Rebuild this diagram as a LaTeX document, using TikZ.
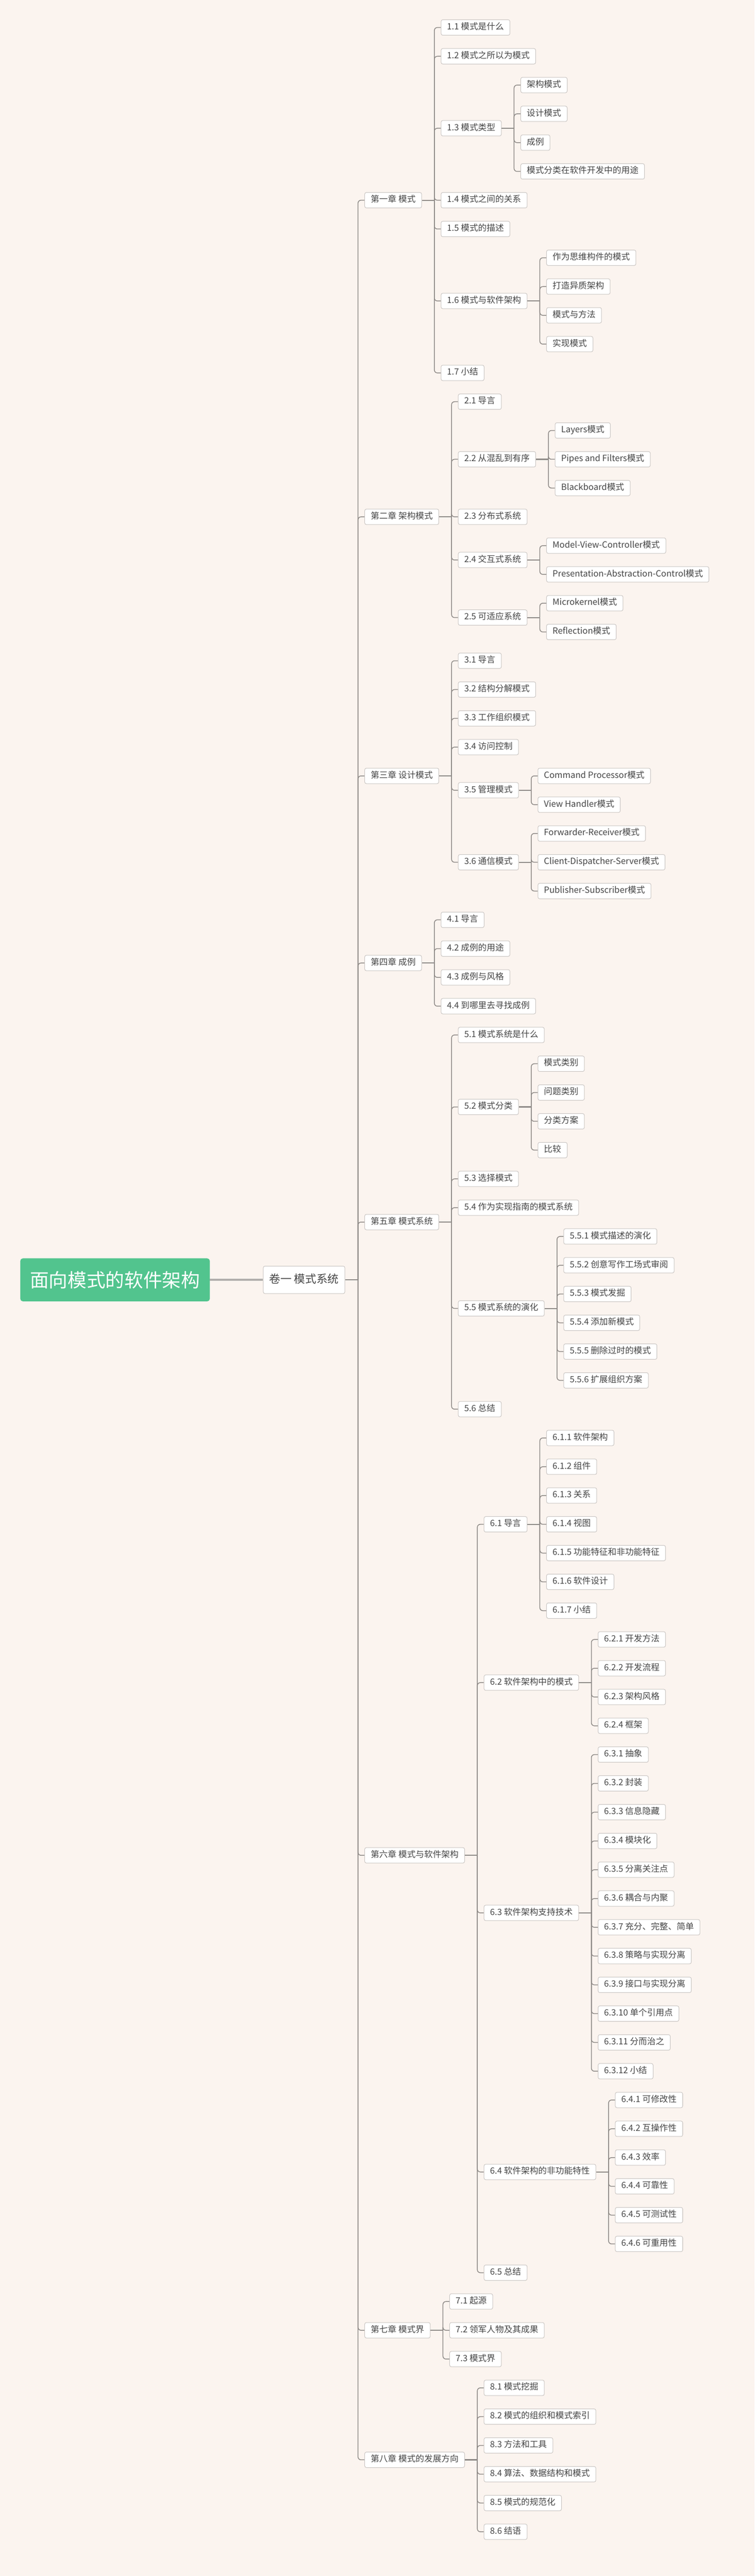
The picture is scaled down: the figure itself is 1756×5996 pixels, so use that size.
\documentclass[tikz,border=0pt]{standalone}
\usepackage{fontspec}
\setmainfont{Noto Sans CJK SC}
\definecolor{bg}{HTML}{FBF4EF}
\definecolor{ln}{HTML}{8E8A87}
\definecolor{bd}{HTML}{C8C4C1}
\definecolor{tx}{HTML}{454545}
\definecolor{gr}{HTML}{52C48E}
\tikzset{
  box/.style={draw=bd,fill=white,rounded corners=4pt,line width=1.2pt,inner xsep=14pt,inner ysep=0pt,
    text height=15pt,text depth=5pt,minimum height=36pt,text=tx,font=\fontsize{20pt}{24pt}\selectfont,anchor=west},
  stub/.style={draw=ln,line width=2.6pt},
  conn/.style={draw=ln,line width=1.8pt,rounded corners=7pt}
}
\newcommand\nd[4]{%
  \pgfmathsetmacro\yy{64+#3*67}%
  \node[box] (#1) at ([xshift=44pt]#2.east |- 0,\yy) {#4};
  \draw[conn] ([xshift=29pt]#2.east) |- (#1.west);}
\newcommand\stb[1]{\draw[stub] (#1.east) -- ++(29pt,0);}
\begin{document}
\begin{tikzpicture}[x=1pt,y=-1pt]
\fill[bg] (0,0) rectangle (1756,5996);
\useasboundingbox (0,0) rectangle (1756,5996);
\node[fill=gr,rounded corners=6pt,minimum width=441pt,minimum height=100pt,anchor=west,text=white,
  font=\fontsize{44pt}{50pt}\selectfont] (root) at (47,2979) {面向模式的软件架构};
\node[box,minimum height=64pt,font=\fontsize{26pt}{30pt}\selectfont,text height=20pt,text depth=6pt] (v1) at (612,2979) {卷一 模式系统};
\draw[draw=ln!70,line width=5pt] (root.east) -- (v1.west);
\stb{v1}
% chapters
\newcommand\ch[3]{%
  \pgfmathsetmacro\yy{64+#2*67}%
  \node[box] (#1) at (848,\yy) {#3};
  \draw[conn] ([xshift=30pt]v1.east) |- (#1.west);}
\ch{c1}{6}{第一章 模式}
\ch{c2}{17}{第二章 架构模式}
\ch{c3}{26}{第三章 设计模式}
\ch{c4}{32.5}{第四章 成例}
\ch{c5}{41.5}{第五章 模式系统}
\ch{c6}{63.5}{第六章 模式与软件架构}
\ch{c7}{80}{第七章 模式界}
\ch{c8}{84.5}{第八章 模式的发展方向}
\foreach \c in {c1,c2,c3,c4,c5,c6,c7,c8} {\stb{\c}}
% ch1
\nd{a11}{c1}{0}{1.1 模式是什么}
\nd{a12}{c1}{1}{1.2 模式之所以为模式}
\nd{a13}{c1}{3.5}{1.3 模式类型}
\nd{a14}{c1}{6}{1.4 模式之间的关系}
\nd{a15}{c1}{7}{1.5 模式的描述}
\nd{a16}{c1}{9.5}{1.6 模式与软件架构}
\nd{a17}{c1}{12}{1.7 小结}
\stb{a13}\stb{a16}
\nd{a131}{a13}{2}{架构模式}
\nd{a132}{a13}{3}{设计模式}
\nd{a133}{a13}{4}{成例}
\nd{a134}{a13}{5}{模式分类在软件开发中的用途}
\nd{a161}{a16}{8}{作为思维构件的模式}
\nd{a162}{a16}{9}{打造异质架构}
\nd{a163}{a16}{10}{模式与方法}
\nd{a164}{a16}{11}{实现模式}
% ch2
\nd{b21}{c2}{13}{2.1 导言}
\nd{b22}{c2}{15}{2.2 从混乱到有序}
\nd{b23}{c2}{17}{2.3 分布式系统}
\nd{b24}{c2}{18.5}{2.4 交互式系统}
\nd{b25}{c2}{20.5}{2.5 可适应系统}
\stb{b22}\stb{b24}\stb{b25}
\nd{b221}{b22}{14}{Layers模式}
\nd{b222}{b22}{15}{Pipes and Filters模式}
\nd{b223}{b22}{16}{Blackboard模式}
\nd{b241}{b24}{18}{Model-View-Controller模式}
\nd{b242}{b24}{19}{Presentation-Abstraction-Control模式}
\nd{b251}{b25}{20}{Microkernel模式}
\nd{b252}{b25}{21}{Reflection模式}
% ch3
\nd{d31}{c3}{22}{3.1 导言}
\nd{d32}{c3}{23}{3.2 结构分解模式}
\nd{d33}{c3}{24}{3.3 工作组织模式}
\nd{d34}{c3}{25}{3.4 访问控制}
\nd{d35}{c3}{26.5}{3.5 管理模式}
\nd{d36}{c3}{29}{3.6 通信模式}
\stb{d35}\stb{d36}
\nd{d351}{d35}{26}{Command Processor模式}
\nd{d352}{d35}{27}{View Handler模式}
\nd{d361}{d36}{28}{Forwarder-Receiver模式}
\nd{d362}{d36}{29}{Client-Dispatcher-Server模式}
\nd{d363}{d36}{30}{Publisher-Subscriber模式}
% ch4
\nd{e41}{c4}{31}{4.1 导言}
\nd{e42}{c4}{32}{4.2 成例的用途}
\nd{e43}{c4}{33}{4.3 成例与风格}
\nd{e44}{c4}{34}{4.4 到哪里去寻找成例}
% ch5
\nd{f51}{c5}{35}{5.1 模式系统是什么}
\nd{f52}{c5}{37.5}{5.2 模式分类}
\nd{f53}{c5}{40}{5.3 选择模式}
\nd{f54}{c5}{41}{5.4 作为实现指南的模式系统}
\nd{f55}{c5}{44.5}{5.5 模式系统的演化}
\nd{f56}{c5}{48}{5.6 总结}
\stb{f52}\stb{f55}
\nd{f521}{f52}{36}{模式类别}
\nd{f522}{f52}{37}{问题类别}
\nd{f523}{f52}{38}{分类方案}
\nd{f524}{f52}{39}{比较}
\nd{f551}{f55}{42}{5.5.1 模式描述的演化}
\nd{f552}{f55}{43}{5.5.2 创意写作工场式审阅}
\nd{f553}{f55}{44}{5.5.3 模式发掘}
\nd{f554}{f55}{45}{5.5.4 添加新模式}
\nd{f555}{f55}{46}{5.5.5 删除过时的模式}
\nd{f556}{f55}{47}{5.5.6 扩展组织方案}
% ch6
\nd{g61}{c6}{52}{6.1 导言}
\nd{g62}{c6}{57.5}{6.2 软件架构中的模式}
\nd{g63}{c6}{65.5}{6.3 软件架构支持技术}
\nd{g64}{c6}{74.5}{6.4 软件架构的非功能特性}
\nd{g65}{c6}{78}{6.5 总结}
\stb{g61}\stb{g62}\stb{g63}\stb{g64}
\nd{g611}{g61}{49}{6.1.1 软件架构}
\nd{g612}{g61}{50}{6.1.2 组件}
\nd{g613}{g61}{51}{6.1.3 关系}
\nd{g614}{g61}{52}{6.1.4 视图}
\nd{g615}{g61}{53}{6.1.5 功能特征和非功能特征}
\nd{g616}{g61}{54}{6.1.6 软件设计}
\nd{g617}{g61}{55}{6.1.7 小结}
\nd{g621}{g62}{56}{6.2.1 开发方法}
\nd{g622}{g62}{57}{6.2.2 开发流程}
\nd{g623}{g62}{58}{6.2.3 架构风格}
\nd{g624}{g62}{59}{6.2.4 框架}
\nd{g631}{g63}{60}{6.3.1 抽象}
\nd{g632}{g63}{61}{6.3.2 封装}
\nd{g633}{g63}{62}{6.3.3 信息隐藏}
\nd{g634}{g63}{63}{6.3.4 模块化}
\nd{g635}{g63}{64}{6.3.5 分离关注点}
\nd{g636}{g63}{65}{6.3.6 耦合与内聚}
\nd{g637}{g63}{66}{6.3.7 充分、完整、简单}
\nd{g638}{g63}{67}{6.3.8 策略与实现分离}
\nd{g639}{g63}{68}{6.3.9 接口与实现分离}
\nd{g6310}{g63}{69}{6.3.10 单个引用点}
\nd{g6311}{g63}{70}{6.3.11 分而治之}
\nd{g6312}{g63}{71}{6.3.12 小结}
\nd{g641}{g64}{72}{6.4.1 可修改性}
\nd{g642}{g64}{73}{6.4.2 互操作性}
\nd{g643}{g64}{74}{6.4.3 效率}
\nd{g644}{g64}{75}{6.4.4 可靠性}
\nd{g645}{g64}{76}{6.4.5 可测试性}
\nd{g646}{g64}{77}{6.4.6 可重用性}
% ch7
\nd{h71}{c7}{79}{7.1 起源}
\nd{h72}{c7}{80}{7.2 领军人物及其成果}
\nd{h73}{c7}{81}{7.3 模式界}
% ch8
\nd{i81}{c8}{82}{8.1 模式挖掘}
\nd{i82}{c8}{83}{8.2 模式的组织和模式索引}
\nd{i83}{c8}{84}{8.3 方法和工具}
\nd{i84}{c8}{85}{8.4 算法、数据结构和模式}
\nd{i85}{c8}{86}{8.5 模式的规范化}
\nd{i86}{c8}{87}{8.6 结语}
\end{tikzpicture}
\end{document}
